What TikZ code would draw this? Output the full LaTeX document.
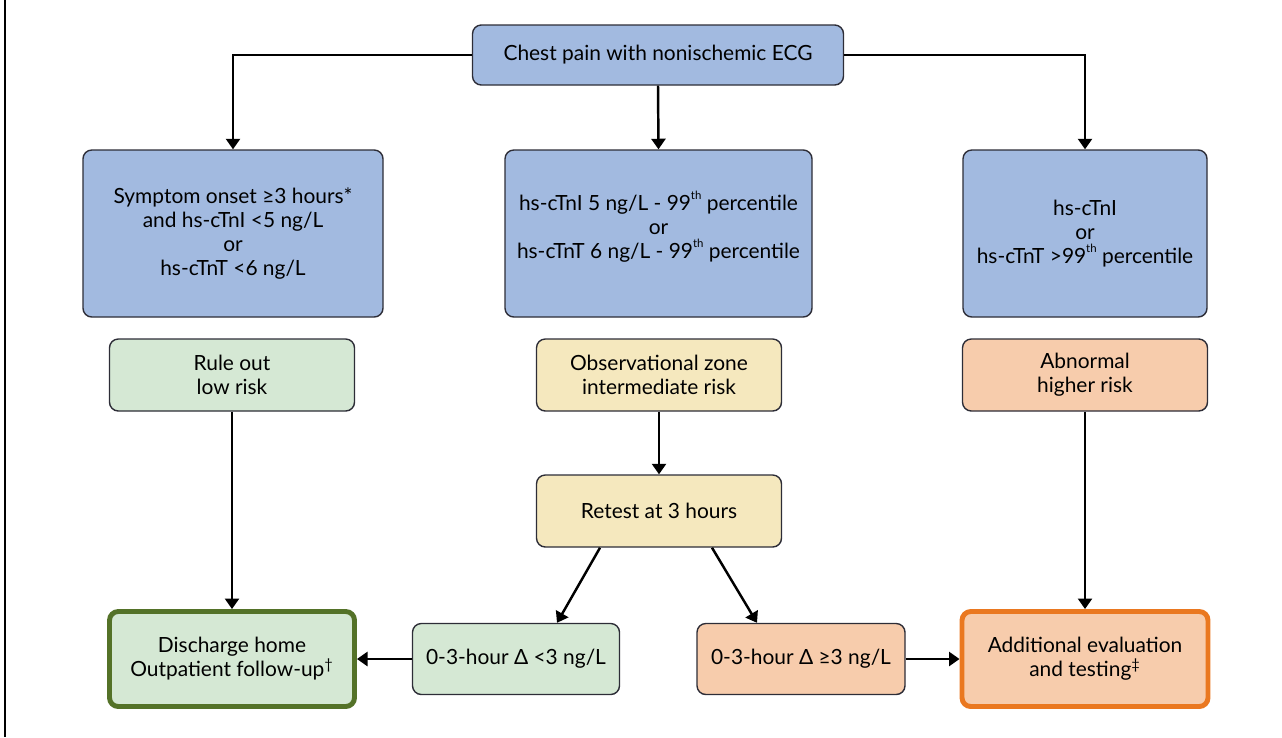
\documentclass[tikz,border=0pt]{standalone}
\usepackage{fontspec}
\setmainfont{Lato}
\usetikzlibrary{arrows.meta,calc}
\definecolor{bluebox}{RGB}{162,186,224}
\definecolor{greenbox}{RGB}{213,232,212}
\definecolor{yellowbox}{RGB}{245,232,190}
\definecolor{orangebox}{RGB}{247,204,172}
\definecolor{darkgreen}{RGB}{84,114,40}
\definecolor{darkorange}{RGB}{234,120,32}
\definecolor{edge}{RGB}{45,45,55}
\newcommand{\sth}{\raisebox{0.5em}{\fontsize{6.5}{6.5}\selectfont th}}

\begin{document}
\begin{tikzpicture}[
  box/.style={draw=edge,line width=0.8pt,rounded corners=5pt,align=center,inner sep=2pt,
    font=\fontsize{11.9}{13.6}\selectfont},
  blue/.style={box,fill=bluebox,minimum height=3.34cm},
  green/.style={box,fill=greenbox,minimum height=1.44cm},
  yellow/.style={box,fill=yellowbox,minimum height=1.44cm,minimum width=4.9cm},
  orange/.style={box,fill=orangebox,minimum height=1.44cm},
  arr/.style={-{Triangle[length=6pt,width=8pt]},line width=1.4pt}]
\useasboundingbox (0,0) rectangle (25.64,-14.74);
\draw[line width=1.2pt] (0.1,0) -- (0.1,-14.74);
\node[box,fill=bluebox,minimum width=7.42cm,minimum height=1.2cm] (chest) at (13.16,-1.1) {Chest pain with nonischemic ECG};
\node[blue,minimum width=6.0cm] (symp) at (4.66,-4.67) {Symptom onset ≥3 hours*\\and hs-cTnI <5 ng/L\\or\\hs-cTnT <6 ng/L};
\node[blue,minimum width=6.14cm] (mid) at (13.17,-4.67) {hs-cTnI 5 ng/L - 99\sth{} percentile\\or\\hs-cTnT 6 ng/L - 99\sth{} percentile\\[-3.6pt]};
\node[blue,minimum width=4.88cm] (high) at (21.7,-4.67) {hs-cTnI\\or\\hs-cTnT >99\sth{} percentile};
\node[green,minimum width=4.9cm] (low) at (4.64,-7.5) {Rule out\\low risk};
\node[yellow] (obs) at (13.18,-7.5) {Observational zone\\intermediate risk};
\node[orange,minimum width=4.9cm] (abn) at (21.7,-7.5) {Abnormal\\higher risk};
\node[yellow] (retest) at (13.18,-10.22) {Retest at 3 hours};
\node[green,draw=darkgreen,line width=2.8pt,minimum width=4.9cm,minimum height=1.9cm] (home) at (4.64,-13.18) {Discharge home\\Outpatient follow-up\textsuperscript{†}};
\node[green,minimum width=4.14cm,minimum height=1.42cm] (less) at (10.32,-13.18) {0-3-hour Δ <3 ng/L};
\node[orange,minimum width=4.16cm,minimum height=1.42cm] (more) at (16.02,-13.18) {0-3-hour Δ ≥3 ng/L};
\node[orange,draw=darkorange,line width=2.8pt,minimum width=4.92cm,minimum height=1.9cm] (addl) at (21.7,-13.18) {Additional evaluation\\and testing\textsuperscript{‡}};
\draw[arr] (chest.west) -| (symp.north);
\draw[arr] (chest.east) -| (high.north);
\draw[arr] (chest.south) -- (mid.north);
\draw[arr] (low.south) -- (home.north);
\draw[arr] (obs.south) -- (retest.north);
\draw[arr] (abn.south) -- (addl.north);
\draw[arr] ([xshift=-1.18cm]retest.south) -- ([xshift=0.82cm]less.north);
\draw[arr] ([xshift=1.06cm]retest.south) -- ([xshift=-0.88cm]more.north);
\draw[arr] (less.west) -- (home.east);
\draw[arr] (more.east) -- (addl.west);
\end{tikzpicture}
\end{document}
